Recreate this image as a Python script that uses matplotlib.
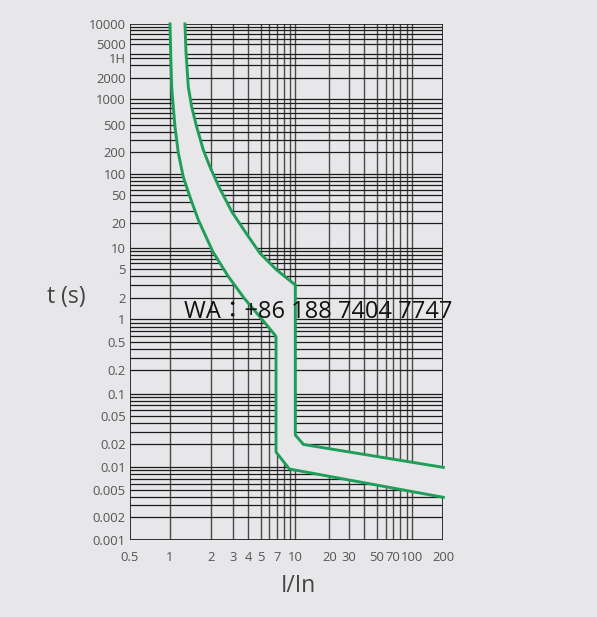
import numpy as np
import matplotlib
matplotlib.use("Agg")
import matplotlib.pyplot as plt

# tripping band (current multiple I/In vs time t in seconds)
upper_x = [1.29, 1.314, 1.366, 1.447, 1.576, 1.764, 1.977, 2.33, 2.96, 3.90, 4.94,
           7.0, 10.0, 10.0, 11.8, 200]
upper_t = [10000, 4066, 1500, 812, 467, 214, 125.5, 65.4, 28.7, 14.7, 8.33,
           4.85, 3.03, 0.0269, 0.0199, 0.0098]
lower_x = [1.0, 1.012, 1.029, 1.058, 1.089, 1.152, 1.254, 1.406, 1.62, 2.086, 2.75, 3.71,
           4.94, 6.75, 6.9, 6.9, 8.91, 200]
lower_t = [10000, 4066, 1500, 812, 467, 194, 91.3, 46.8, 22.1, 8.7, 4.02, 2.02,
           1.08, 0.615, 0.578, 0.01575, 0.00934, 0.00391]

x_ticks = [0.5, 1, 2, 3, 4, 5, 7, 10, 20, 30, 50, 70, 100, 200]
x_tick_labels = ["0.5", "1", "2", "3", "4", "5", "7", "10", "20", "30", "50", "70", "100", "200"]
y_ticks = [0.001, 0.002, 0.005, 0.01, 0.02, 0.05, 0.1, 0.2, 0.5, 1, 2, 5, 10, 20, 50,
           100, 200, 500, 1000, 2000, 3600, 5000, 10000]
y_tick_labels = ["0.001", "0.002", "0.005", "0.01", "0.02", "0.05", "0.1", "0.2", "0.5", "1",
                 "2", "5", "10", "20", "50", "100", "200", "500", "1000", "2000", "1H",
                 "5000", "10000"]

# grid lines
x_grid = [1, 2, 3, 4, 5, 6, 7, 8, 9, 10, 20, 30, 40, 50, 60, 70, 80, 90, 100]
y_grid = [k * 10.0**n for n in range(-3, 4) for k in range(1, 10)] + [3600]

# the printed axes are not clean log axes: relative position of each labelled value
x_axis_pos = [0.0, 40.0, 80.7, 102.7, 118.0, 130.7, 146.7, 165.3, 199.3, 218.7,
              246.7, 263.3, 282.3, 313.3]
y_axis_pos = [0.0, 22.7, 50.0, 73.3, 95.7, 124.3, 146.0, 169.7, 198.3, 220.7, 241.7,
              271.0, 292.3, 317.0, 345.0, 365.7, 388.0, 415.0, 440.7, 461.7, 481.7,
              496.0, 516.0]

BG = "#e7e7e9"
GREEN = "#1f9e5a"


def interp_ext(v, xs, ys):
    v = np.asarray(v, dtype=float)
    out = np.interp(v, xs, ys)
    s0 = (ys[1] - ys[0]) / (xs[1] - xs[0])
    s1 = (ys[-1] - ys[-2]) / (xs[-1] - xs[-2])
    out = np.where(v < xs[0], ys[0] + (v - xs[0]) * s0, out)
    out = np.where(v > xs[-1], ys[-1] + (v - xs[-1]) * s1, out)
    return out


def make_scale(ticks, pos):
    lt = np.log10(ticks)
    pp = np.array(pos, dtype=float)

    def fwd(v):
        return interp_ext(np.log10(np.clip(v, 1e-12, None)), lt, pp)

    def inv(p):
        return 10.0 ** interp_ext(p, pp, lt)

    return fwd, inv


fig = plt.figure(figsize=(5.97, 6.17), dpi=100, facecolor=BG)
ax = fig.add_axes([130 / 597, 1 - 540 / 617, 313.3 / 597, 516 / 617])
ax.set_facecolor(BG)
ax.set_xscale("function", functions=make_scale(x_ticks, x_axis_pos))
ax.set_yscale("function", functions=make_scale(y_ticks, y_axis_pos))
ax.set_xlim(0.5, 200)
ax.set_ylim(0.001, 10000)

for v in x_grid:
    ax.axvline(v, color="#4a4a4a", lw=1.0, zorder=1)
for v in y_grid:
    ax.axhline(v, color="#1c1c1c", lw=0.9, zorder=1)
# frame
for v in (0.5, 200):
    ax.axvline(v, color="#222222", lw=1.3, zorder=1)
for v in (0.001, 10000):
    ax.axhline(v, color="#222222", lw=1.3, zorder=1)
for s in ax.spines.values():
    s.set_visible(False)

band_x = upper_x + lower_x[::-1]
band_t = upper_t + lower_t[::-1]
ax.fill(band_x, band_t, color=BG, zorder=2, lw=0)
ax.plot(upper_x, upper_t, color=GREEN, lw=2.1, zorder=3, clip_on=False,
        solid_joinstyle="round")
ax.plot(lower_x, lower_t, color=GREEN, lw=2.1, zorder=3, clip_on=False,
        solid_joinstyle="round")

ax.xaxis.set_major_locator(matplotlib.ticker.FixedLocator(x_ticks))
ax.xaxis.set_minor_locator(matplotlib.ticker.NullLocator())
ax.set_xticklabels(x_tick_labels)
ax.yaxis.set_major_locator(matplotlib.ticker.FixedLocator(y_ticks))
ax.yaxis.set_minor_locator(matplotlib.ticker.NullLocator())
ax.set_yticklabels(y_tick_labels)
ax.tick_params(axis="both", length=0, labelcolor="#555555")
ax.tick_params(axis="x", pad=8)
ax.tick_params(axis="y", pad=3)
for lab in ax.get_xticklabels() + ax.get_yticklabels():
    lab.set_fontfamily("Open Sans")
    lab.set_fontsize(9.4)

fig.text(66 / 597, 1 - 297 / 617, "t (s)", ha="center", va="center",
         fontsize=16.5, color="#444444", family="Open Sans")
fig.text(298 / 597, 1 - 586 / 617, "I/In", ha="center", va="center",
         fontsize=16.5, color="#444444", family="Open Sans")

fig.text(184 / 597, 1 - 317.5 / 617, "WA：+86 188 7404 7747", ha="left", va="baseline",
         fontsize=17, color="#111111", family=["Open Sans", "Noto Sans CJK JP"], zorder=10)

fig.savefig("out.png", dpi=100, facecolor=BG)
